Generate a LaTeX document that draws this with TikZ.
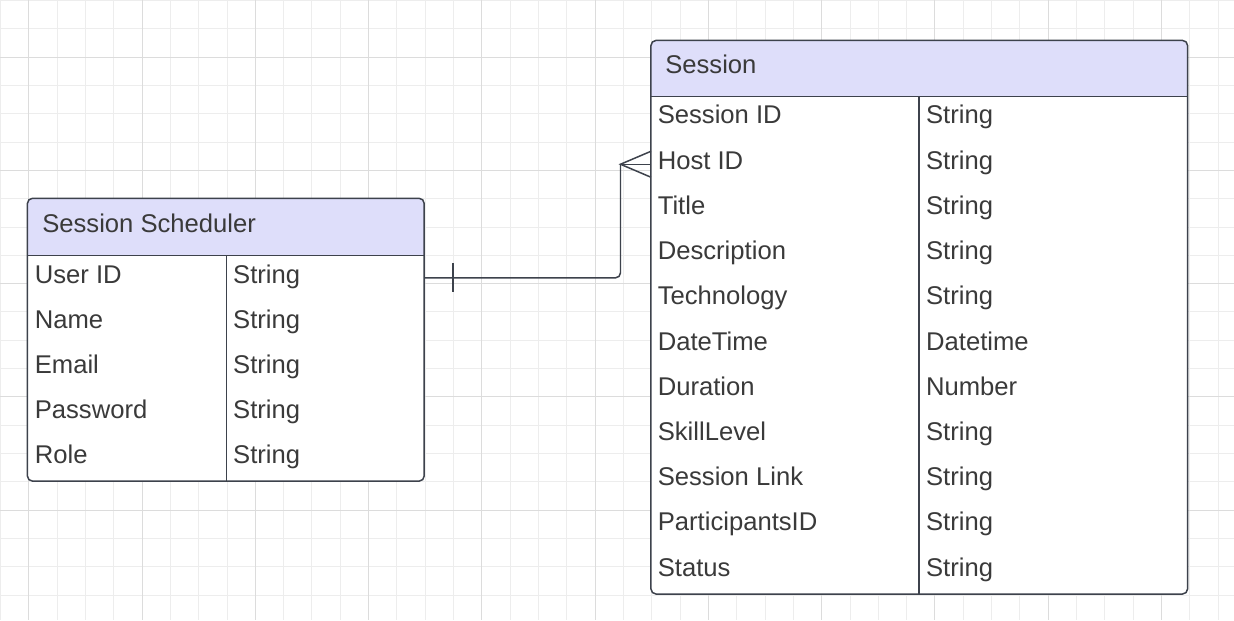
\documentclass[tikz,border=0pt]{standalone}
\usepackage{fontspec}
\setmainfont{Liberation Sans}
\def\upx{0.02cm}
\definecolor{gridminor}{HTML}{EDEDED}
\definecolor{gridmajor}{HTML}{DCDCDC}
\definecolor{headfill}{HTML}{DEDEFA}
\definecolor{linecol}{HTML}{3D424C}
\definecolor{textcol}{HTML}{3A3A3A}
\tikzset{
  entity/.style={draw=linecol, line width=0.85pt, rounded corners=0.1cm},
  divider/.style={draw=linecol, line width=0.85pt},
  cell/.style={inner sep=0pt, anchor=base west, text=textcol, font=\fontsize{14.6}{17}\selectfont},
  rowbox/.style={inner sep=0pt, outer sep=0pt, minimum height=45*\upx},
  link/.style={draw=linecol, line width=0.85pt}
}
\begin{document}
\begin{tikzpicture}[x=\upx, y=-\upx]
    % background grid
    \fill[white] (0,0) rectangle (1234,620);
    \foreach \k in {0,...,43}
        \draw[gridminor, line width=0.55pt] ({\k*28.34},0) -- ({\k*28.34},620);
    \foreach \k in {0,...,21}
        \draw[gridminor, line width=0.55pt] (0,{\k*28.34}) -- (1234,{\k*28.34});
    \foreach \k in {1,5,...,41}
        \draw[gridmajor, line width=0.55pt] ({\k*28.34},0) -- ({\k*28.34},620);
    \foreach \k in {2,6,...,18}
        \draw[gridmajor, line width=0.55pt] (0,{\k*28.34}) -- (1234,{\k*28.34});
    \useasboundingbox (0,0) rectangle (1234,620);

    % Session Scheduler table
    \begin{scope}
        \clip[rounded corners=0.1cm] (27,198) rectangle (424,481);
        \fill[white] (27,198) rectangle (424,481);
        \fill[headfill] (27,198) rectangle (424,255);
    \end{scope}
    \draw[entity] (27,198) rectangle (424,481);
    \draw[divider] (27,255) -- (424,255) (226,255) -- (226,481);
    \node[cell] (ss-h) at (41.5,232) {Session Scheduler};
    \foreach \n/\t [count=\i] in {User ID/String, Name/String, Email/String,
        Password/String, Role/String} {
        \node[rowbox, minimum width=397*\upx] (ss-\i) at ({225.5},{255+(\i-0.5)*45.2}) {};
        \node[cell] (ss-n\i) at ({34},{255+(\i-1)*45.2+28}) {\n};
        \node[cell] (ss-t\i) at ({232.5},{255+(\i-1)*45.2+28}) {\t};
    }

    % Session table
    \begin{scope}
        \clip[rounded corners=0.1cm] (651,40) rectangle (1188,594);
        \fill[white] (651,40) rectangle (1188,594);
        \fill[headfill] (651,40) rectangle (1188,96);
    \end{scope}
    \draw[entity] (651,40) rectangle (1188,594);
    \draw[divider] (651,96) -- (1188,96) (919,96) -- (919,594);
    \node[cell] (s-h) at (665,73.5) {Session};
    \foreach \n/\t [count=\i] in {Session ID/String, Host ID/String, Title/String,
        Description/String, Technology/String, DateTime/Datetime, Duration/Number,
        SkillLevel/String, Session Link/String, ParticipantsID/String, Status/String} {
        \node[rowbox, minimum width=537*\upx] (s-\i) at ({919.5},{96+(\i-0.5)*45.27}) {};
        \node[cell] (s-n\i) at ({657.5},{96+(\i-1)*45.27+27.5}) {\n};
        \node[cell] (s-t\i) at ({926},{96+(\i-1)*45.27+27.5}) {\t};
    }

    % Relation: one to many
    \coordinate (crow) at ([xshift=-30.5*\upx]s-2.west);
    \draw[link, rounded corners=0.1cm] (crow) |- (ss-1.east);
    \draw[link] (crow) -- (s-2.west);
    \draw[link] ([yshift=13*\upx]s-2.west) -- (crow) -- ([yshift=-13*\upx]s-2.west);
    \draw[link] ([xshift=29*\upx, yshift=14.5*\upx]ss-1.east) -- ([xshift=29*\upx, yshift=-14.5*\upx]ss-1.east);
\end{tikzpicture}
\end{document}
